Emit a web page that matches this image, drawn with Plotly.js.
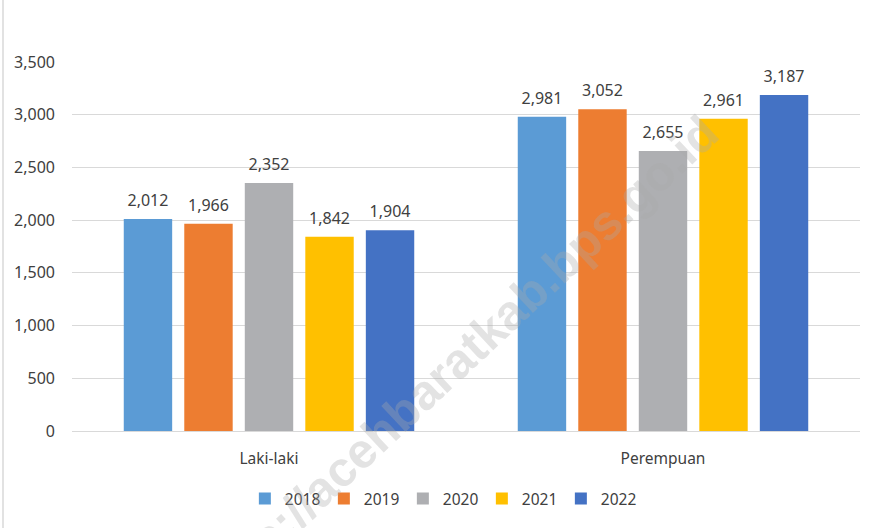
<!DOCTYPE html>
<html>
<head>
<meta charset="utf-8">
<script src="https://cdn.plot.ly/plotly-3.0.1.min.js"></script>
<style>html,body{margin:0;padding:0;background:#fff;}#chart{width:883px;height:528px;}</style>
</head>
<body>
<div id="chart"></div>
<script>
const categories = ["Laki-laki", "Perempuan"];
const years = ["2018", "2019", "2020", "2021", "2022"];
const v2018 = [2012, 2981];
const v2019 = [1966, 3052];
const v2020 = [2352, 2655];
const v2021 = [1842, 2961];
const v2022 = [1904, 3187];
const yTicks = [0, 500, 1000, 1500, 2000, 2500, 3000, 3500];
const colors = ["#5B9BD5", "#ED7D31", "#AEAFB2", "#FFC000", "#4472C4"];
const watermark = "https://acehbaratkab.bps.go.id";

const series = [v2018, v2019, v2020, v2021, v2022];
const font = "Noto Sans, Open Sans, sans-serif";
const bars = series.map((vals, i) => ({
  type: "bar",
  name: years[i],
  x: categories,
  y: vals,
  marker: {color: colors[i]},
  offsetgroup: years[i],
  hoverinfo: "skip"
}));
const labels = series.map((vals, i) => ({
  type: "scatter",
  mode: "markers+text",
  x: categories,
  y: vals,
  offsetgroup: years[i],
  showlegend: false,
  marker: {size: 13, opacity: 0, color: colors[i]},
  text: vals.map(v => v.toLocaleString("en-US")),
  textposition: "top center",
  cliponaxis: false,
  textfont: {family: font, size: 16, color: "#404040"},
  hoverinfo: "skip"
}));

const layout = {
  width: 883, height: 528,
  margin: {l: 72, r: 23, t: 62, b: 97},
  paper_bgcolor: "#fff", plot_bgcolor: "#fff",
  barmode: "group", bargap: 0.232, bargroupgap: 0.2,
  scattermode: "group", scattergap: 0.232,
  font: {family: font, size: 16, color: "#404040"},
  showlegend: true,
  legend: {orientation: "h", x: 0.47, xanchor: "center", y: -0.184, yanchor: "middle",
           font: {family: font, size: 15.5, color: "#404040"}, itemwidth: 30, traceorder: "normal",
           entrywidth: 34, entrywidthmode: "pixels"},
  xaxis: {showgrid: false, showline: false, ticks: "", ticklabelstandoff: 16,
          tickfont: {family: font, size: 15.5, color: "#404040"}, zeroline: false},
  yaxis: {range: [0, 3500], tickvals: yTicks, tickformat: ",", showgrid: true, gridcolor: "#D9D9D9",
          gridwidth: 1, zeroline: true, zerolinecolor: "#D9D9D9", zerolinewidth: 1, showline: false,
          ticks: "", ticklabelstandoff: 16, tickfont: {family: font, size: 16, color: "#404040"}},
  shapes: [{type: "line", xref: "paper", yref: "paper", x0: (3 - 72) / 788, x1: (3 - 72) / 788,
            y0: -97 / 369, y1: (431) / 369, line: {color: "#D9D9D9", width: 1.5}}],
  annotations: [{text: watermark, xref: "paper", yref: "paper", x: 0.48, y: 0.173,
                 xanchor: "center", yanchor: "middle",
                 showarrow: false, textangle: -43,
                 font: {family: "Liberation Sans, Arial, sans-serif", size: 49, color: "rgba(170,170,170,0.33)", weight: "bold"}}]
};

Plotly.newPlot("chart", bars.concat(labels), layout, {displayModeBar: false, staticPlot: true});
</script>
</body>
</html>
